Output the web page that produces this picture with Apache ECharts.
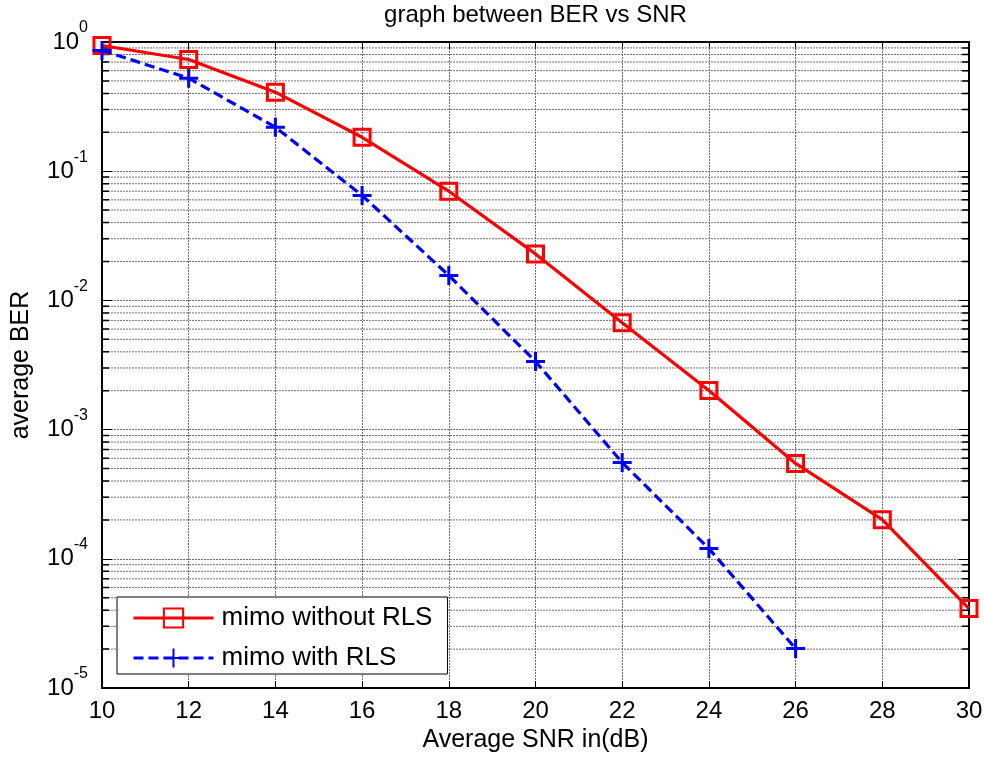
<!DOCTYPE html>
<html>
<head>
<meta charset="utf-8">
<script src="https://cdn.jsdelivr.net/npm/echarts@6/dist/echarts.min.js"></script>
<style>
html,body{margin:0;padding:0;background:#fff;}
#chart{width:984px;height:757px;}
</style>
</head>
<body>
<div id="chart"></div>
<script>
const snrNoRLS = [10, 12, 14, 16, 18, 20, 22, 24, 26, 28, 30];
const berNoRLS = [0.94, 0.732, 0.409, 0.183, 0.070, 0.0229, 0.00671, 0.00201, 5.47e-4, 2.01e-4, 4.12e-5];
const snrRLS = [10, 12, 14, 16, 18, 20, 22, 24, 26];
const berRLS = [0.86, 0.525, 0.219, 0.0649, 0.0156, 0.00337, 5.56e-4, 1.20e-4, 2.02e-5];
const seriesNames = ['mimo without RLS', 'mimo with RLS'];
const titleText = 'graph between BER vs SNR';
const xName = 'Average SNR in(dB)';
const yName = 'average BER';
const xMin = 10, xMax = 30, yMin = 1e-5, yMax = 1;

const FONT = '"Liberation Sans", Arial, sans-serif';
const gridColor = '#707070';
const gridDash = [2, 1];

// minor log grid values 2..9 x 10^k (axis decoration)
const minorVals = [];
for (let k = -5; k < 0; k++) {
  for (let m = 2; m <= 9; m++) minorVals.push(m * Math.pow(10, k));
}
// build gapped polylines for minor gridlines and minor ticks
const minorGridData = [];
const minorTickData = [];
const tickLen = (xMax - xMin) * 7 / 867;
minorVals.forEach(v => {
  minorGridData.push([xMin, v], [xMax, v], [xMax, '-']);
  minorTickData.push([xMin, v], [xMin + tickLen, v], [xMin + tickLen, '-']);
  minorTickData.push([xMax - tickLen, v], [xMax, v], [xMax, '-']);
});

const chart = echarts.init(document.getElementById('chart'));
const axisLineStyle = { color: '#000', width: 2 };
const splitLineStyle = { color: gridColor, width: 1, type: gridDash };

const option = {
  backgroundColor: '#fff',
  animation: false,
  title: {
    text: titleText,
    left: 535.5, textAlign: 'center', top: 3, padding: 0,
    textStyle: { fontFamily: FONT, fontSize: 24, fontWeight: 'normal', color: '#000' }
  },
  grid: { left: 102, right: 15, top: 42, bottom: 69, outerBoundsMode: 'none', containLabel: false },
  legend: {
    orient: 'vertical',
    left: 117, top: 597,
    padding: [8, 15, 3, 15],
    itemGap: 14,
    itemWidth: 80, itemHeight: 24,
    backgroundColor: '#fff',
    borderColor: '#000', borderWidth: 1, borderRadius: 0,
    lineStyle: { width: 3 },
    textStyle: { fontFamily: FONT, fontSize: 26, color: '#000', padding: [0, 0, 0, 3] },
    data: seriesNames
  },
  xAxis: [{
    type: 'value', min: xMin, max: xMax, interval: 2,
    name: xName, nameLocation: 'middle', nameGap: 35,
    nameTextStyle: { fontFamily: FONT, fontSize: 25, color: '#000' },
    axisLine: { show: true, onZero: false, lineStyle: axisLineStyle },
    axisTick: { show: true, inside: true, length: 7, lineStyle: { color: '#000', width: 1 } },
    axisLabel: { fontFamily: FONT, fontSize: 24, color: '#000', margin: 11 },
    splitLine: { show: true, lineStyle: splitLineStyle }
  }, {
    type: 'value', min: xMin, max: xMax, interval: 2, position: 'top',
    axisLine: { show: true, onZero: false, lineStyle: axisLineStyle },
    axisTick: { show: true, inside: true, length: 7, lineStyle: { color: '#000', width: 1 } },
    axisLabel: { show: false },
    splitLine: { show: false }
  }],
  yAxis: [{
    type: 'log', logBase: 10, min: yMin, max: yMax, interval: 1,
    name: yName, nameLocation: 'middle', nameGap: 68, nameRotate: 90,
    nameTextStyle: { fontFamily: FONT, fontSize: 25, color: '#000' },
    axisLine: { show: true, onZero: false, lineStyle: axisLineStyle },
    axisTick: { show: true, inside: true, length: 10, lineStyle: { color: '#000', width: 1 } },
    axisLabel: {
      margin: 14,
      formatter: function (v) {
        return '{b|10}{s|' + Math.round(Math.log10(v)) + '}';
      },
      rich: {
        b: { fontFamily: FONT, fontSize: 24, color: '#000' },
        s: { fontFamily: FONT, fontSize: 16, color: '#000', padding: [0, 0, 28, 0] }
      }
    },
    splitLine: { show: true, lineStyle: splitLineStyle }
  }, {
    type: 'log', logBase: 10, min: yMin, max: yMax, interval: 1, position: 'right',
    axisLine: { show: true, onZero: false, lineStyle: axisLineStyle },
    axisTick: { show: true, inside: true, length: 10, lineStyle: { color: '#000', width: 1 } },
    axisLabel: { show: false },
    splitLine: { show: false }
  }],
  series: [{
    name: 'minorGrid',
    type: 'line', silent: true, xAxisIndex: 0, yAxisIndex: 0,
    data: minorGridData, symbol: 'none', connectNulls: false,
    lineStyle: { color: gridColor, width: 1, type: gridDash },
    z: 1
  }, {
    name: 'minorTicks',
    type: 'line', silent: true, xAxisIndex: 0, yAxisIndex: 0,
    data: minorTickData, symbol: 'none', connectNulls: false,
    lineStyle: { color: '#000', width: 1.5, type: 'solid' },
    z: 2
  }, {
    name: seriesNames[0],
    type: 'line',
    xAxisIndex: 0, yAxisIndex: 0,
    data: snrNoRLS.map((x, i) => [x, berNoRLS[i]]),
    symbol: 'rect', symbolSize: 16,
    color: '#ff0000',
    lineStyle: { color: '#ff0000', width: 3.2, type: 'solid' },
    itemStyle: { color: 'rgba(255,255,255,0)', borderColor: '#ff0000', borderWidth: 3 },
    z: 5
  }, {
    name: seriesNames[1],
    type: 'line',
    xAxisIndex: 0, yAxisIndex: 0,
    data: snrRLS.map((x, i) => [x, berRLS[i]]),
    symbol: 'path://M5,0L5,10M0,5L10,5', symbolSize: 19,
    color: '#0000ff',
    lineStyle: { color: '#0000ff', width: 3.2, type: [10, 5] },
    itemStyle: { color: '#0000ff', borderColor: '#0000ff', borderWidth: 3 },
    z: 6
  }]
};
chart.setOption(option);
</script>
</body>
</html>
